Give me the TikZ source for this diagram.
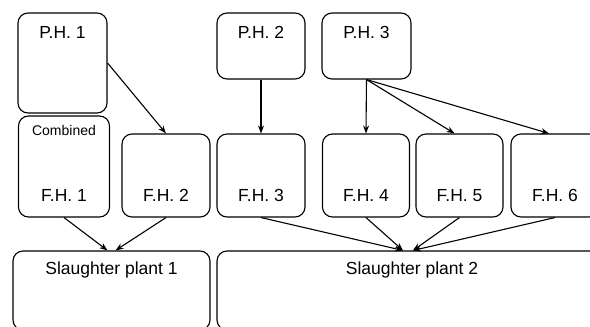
\documentclass[tikz,border=0pt]{standalone}
\usepackage{fontspec}
\setmainfont{Liberation Sans}
\usepackage{tikz}
\usetikzlibrary{arrows.meta}

\begin{document}
\begin{tikzpicture}[x=1pt, y=-1pt, ->, >={Stealth[length=8pt,width=6pt]}, line width=1.1pt,
	every node/.style={font=\fontsize{17.5}{20}\selectfont},
	holding/.style={draw, rounded corners=10pt, inner sep=0pt, minimum width=88pt, minimum height=83pt},
	toptext/.style={label={[anchor=center, yshift=-20pt]north:#1}},
	bottext/.style={label={[anchor=center, yshift=22pt]south:#1}}]
	\useasboundingbox (0,0) rectangle (590,327);
	\clip (0,0) rectangle (590,327);

	% pig holdings
	\node[holding, minimum width=89pt, minimum height=100pt, toptext={P.H. 1}] (P1) at (62.5,63) {};
	\node[holding, minimum height=66pt, toptext={P.H. 2}] (P2) at (261,46) {};
	\node[holding, minimum width=89pt, minimum height=66pt, toptext={P.H. 3}] (P3) at (366.5,46) {};

	% finishing holdings
	\node[holding, minimum width=91pt, minimum height=101pt, bottext={F.H. 1},
		label={[anchor=center, yshift=-15pt, font=\fontsize{14}{16}\selectfont]north:Combined}] (F1) at (64,166.5) {};
	\node[holding, bottext={F.H. 2}] (F2) at (166,175.5) {};
	\node[holding, bottext={F.H. 3}] (F3) at (261,175.5) {};
	\node[holding, minimum width=87pt, bottext={F.H. 4}] (F4) at (366,175.5) {};
	\node[holding, minimum width=87pt, bottext={F.H. 5}] (F5) at (459.5,175.5) {};
	\node[holding, bottext={F.H. 6}] (F6) at (555,175.5) {};

	% slaughter plants
	\node[holding, minimum width=197pt, minimum height=79pt, toptext={Slaughter plant 1}] (S1) at (111.5,290.5) {};
	\node[holding, minimum width=390pt, minimum height=79pt, toptext={Slaughter plant 2}] (S2) at (412,290.5) {};

	\path	(P1.east) edge (F2.north)
			(P2) edge (F3)
			(P3.south) edge (F4.north)
			(P3.south) edge ([xshift=-5pt]F5.north)
			(P3.south) edge ([xshift=-6pt]F6.north)
			(F1.south) edge ([xshift=-4pt]S1.north)
			(F2.south) edge ([xshift=4pt]S1.north)
			(F3.south) edge ([xshift=-9pt]S2.north)
			(F4.south) edge ([xshift=-9pt]S2.north)
			(F5.south) edge ([xshift=1pt]S2.north)
			(F6.south) edge ([xshift=1pt]S2.north);
\end{tikzpicture}
\end{document}
